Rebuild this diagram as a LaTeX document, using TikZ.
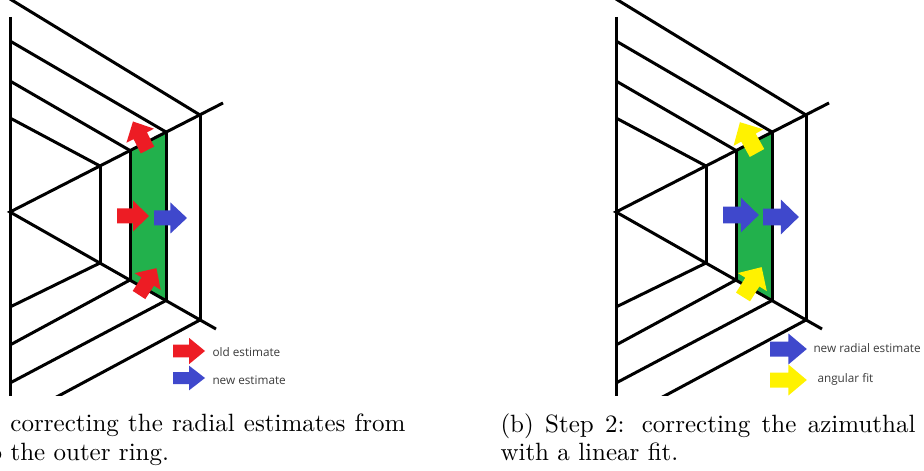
\documentclass[tikz,border=0pt]{standalone}
\usepackage{fontspec}
\usepackage{tikz}
\newfontfamily\legendFont{Open Sans}
\definecolor{fillGreen}{HTML}{22B14C}
\definecolor{arrowRed}{HTML}{ED1C24}
\definecolor{arrowBlue}{HTML}{3F48CC}
\definecolor{arrowYellow}{HTML}{FFF200}
\definecolor{legendGray}{HTML}{3A3A3A}
\tikzset{
  wire/.style={line width=1.2pt},
  legendText/.style={font=\legendFont\fontsize{4.7}{5.5}\selectfont,text=legendGray,anchor=base west,inner sep=0pt},
  capText/.style={anchor=base west,inner sep=0pt},
  blockArrow/.pic={\fill[#1] (0,-7.5)--(16,-7.5)--(16,-15.5)--(32,0)--(16,15.5)--(16,7.5)--(0,7.5)--cycle;},
  webGrid/.pic={
    \clip (0,0) rectangle (240,395);
    % green cell
    \fill[fillGreen] (130,150.5)--(166,132)--(166,300.5)--(130,280)--cycle;
    % spokes and left edge
    \draw[wire] (223,103)--(10,212)--(216,329);
    \draw[wire] (10,17)--(10,400);
    % ring verticals
    \draw[wire] (100,166)--(100,263);
    \draw[wire] (130,150.5)--(130,280);
    \draw[wire] (166,132)--(166,300.5);
    \draw[wire] (200,115)--(200,320);
    % upper edges
    \draw[wire] (10,118)--(100,166);
    \draw[wire] (10,81)--(130,150.5);
    \draw[wire] (10,41)--(166,132);
    \draw[wire] (10,-1)--(200,115);
    % lower edges
    \draw[wire] (10,307)--(100,263);
    \draw[wire] (10,345)--(130,280);
    \draw[wire] (10,383)--(166,300.5);
    \draw[wire] (10,422)--(200,320);
  }
}
\begin{document}
\begin{tikzpicture}[x=0.4pt,y=-0.4pt]
\useasboundingbox (0,0) rectangle (924,471);
% panel a
\pic at (0,0) {webGrid};
\pic[rotate=117] at (147.5,150) {blockArrow=arrowRed};
\pic[rotate=57] at (139,295) {blockArrow=arrowRed};
\pic at (117,216) {blockArrow=arrowRed};
\pic[xscale=1.03] at (154,218) {blockArrow=arrowBlue};
\pic[yscale=0.85] at (173,351) {blockArrow=arrowRed};
\pic[yscale=0.8] at (173,378) {blockArrow=arrowBlue};
\node[legendText] (oldLbl) at (212,356) {old estimate};
\node[legendText] (newLbl) at (212,384) {new estimate};
\node[capText] (capA1) at (10,431) {\makebox[158pt][s]{correcting the radial estimates from}};
\node[capText] (capA2) at (-20.5,460) {to the outer ring.};
% panel b
\pic at (606,0) {webGrid};
\pic[rotate=119,scale=1.1] at (757,153) {blockArrow=arrowYellow};
\pic[rotate=58,scale=1.1] at (743,297) {blockArrow=arrowYellow};
\pic[scale=1.12] at (723,215) {blockArrow=arrowBlue};
\pic[scale=1.12] at (763,217) {blockArrow=arrowBlue};
\pic[xscale=1.15] at (770,349) {blockArrow=arrowBlue};
\pic[xscale=1.15] at (770,380) {blockArrow=arrowYellow};
\node[legendText] (radialLbl) at (813,352) {new radial estimate};
\node[legendText] (fitLbl) at (817,382) {angular fit};
\node[capText] (capB1) at (500,432) {\makebox[166pt][s]{(b) Step 2: correcting the azimuthal}};
\node[capText] (capB2) at (500,460) {with a linear fit.};
\end{tikzpicture}
\end{document}
